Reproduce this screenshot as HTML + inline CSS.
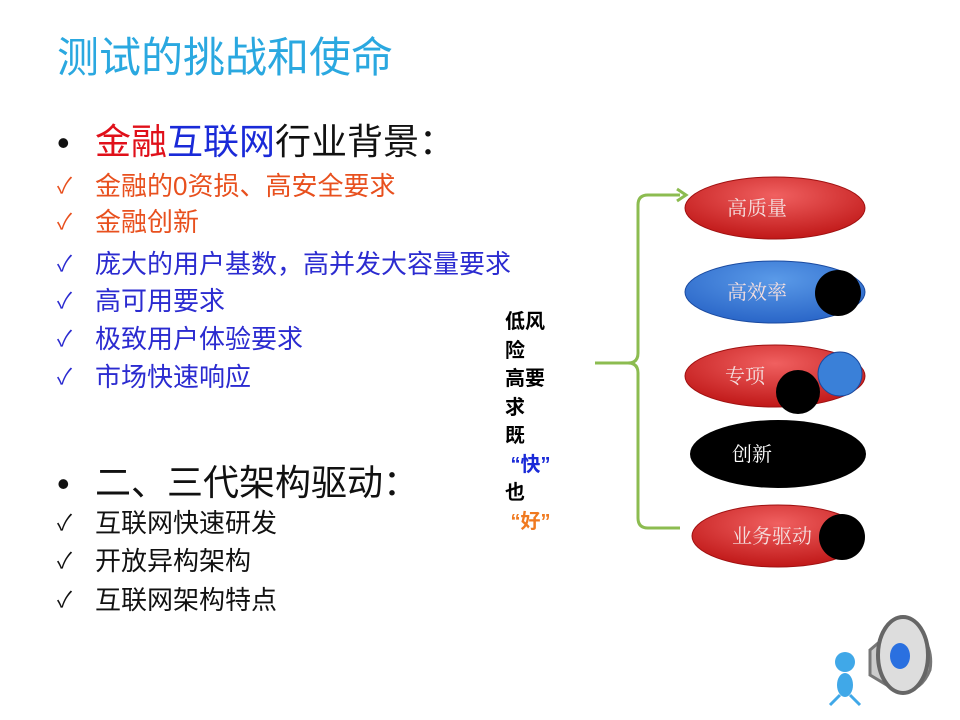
<!DOCTYPE html>
<html><head><meta charset="utf-8"><style>
body{margin:0;width:960px;height:720px;background:#fff;position:relative;overflow:hidden;font-family:"Liberation Sans","Noto Sans CJK SC",sans-serif}
.t{position:absolute;white-space:nowrap;line-height:1}
.c{font-size:26px;left:95px}
.ck{position:absolute;left:57px;font-size:22px;line-height:1}
.o{color:#e8501e}.b{color:#2b2bd0}.k{color:#111}
.v{position:absolute;left:505px;font-size:20px;font-weight:bold;line-height:28.5px;top:308px;color:#000;width:60px}
</style></head><body>
<div class="t" style="left:57px;top:37px;font-size:42px;color:#2aa8e0">测试的挑战和使命</div>
<div class="t" style="left:57px;top:125px;font-size:36px;color:#111">•</div>
<div class="t" style="left:95px;top:124px;font-size:36px;color:#111"><span style="color:#e0101a">金融</span><span style="color:#1a2ad8">互联网</span>行业背景：</div>
<div class="ck o" style="top:175px">✓</div><div class="t c o" style="top:173px">金融的0资损、高安全要求</div>
<div class="ck o" style="top:211px">✓</div><div class="t c o" style="top:209px">金融创新</div>
<div class="ck b" style="top:253px">✓</div><div class="t c b" style="top:251px">庞大的用户基数，高并发大容量要求</div>
<div class="ck b" style="top:290px">✓</div><div class="t c b" style="top:288px">高可用要求</div>
<div class="ck b" style="top:328px">✓</div><div class="t c b" style="top:326px">极致用户体验要求</div>
<div class="ck b" style="top:366px">✓</div><div class="t c b" style="top:364px">市场快速响应</div>
<div class="t" style="left:57px;top:466px;font-size:36px;color:#111">•</div>
<div class="t" style="left:95px;top:465px;font-size:36px;color:#111">二、三代架构驱动：</div>
<div class="ck k" style="top:512px">✓</div><div class="t c k" style="top:510px">互联网快速研发</div>
<div class="ck k" style="top:550px">✓</div><div class="t c k" style="top:548px">开放异构架构</div>
<div class="ck k" style="top:589px">✓</div><div class="t c k" style="top:587px">互联网架构特点</div>
<div class="v">低风<br>险<br>高要<br>求<br>既<br><span style="color:#1a2ad8">&nbsp;“快”</span><br>也<br><span style="color:#f07a20">&nbsp;“好”</span></div>
<svg width="960" height="720" style="position:absolute;left:0;top:0">
<defs>
<radialGradient id="r" cx="50%" cy="30%" r="70%"><stop offset="0" stop-color="#f06060"/><stop offset="1" stop-color="#c01818"/></radialGradient>
<radialGradient id="bl" cx="50%" cy="30%" r="70%"><stop offset="0" stop-color="#5a9ae8"/><stop offset="1" stop-color="#2a66c8"/></radialGradient>
</defs>
<g fill="none" stroke="#8cbc50" stroke-width="3">
<path d="M595 363 H628 Q638 363 638 353 V205 Q638 195 648 195 H680"/>
<path d="M628 363 Q638 363 638 373 V518 Q638 528 648 528 H680"/>
</g>
<path d="M677 189 L686 195 L677 201" fill="none" stroke="#8cbc50" stroke-width="3"/>
<ellipse cx="775" cy="208" rx="90" ry="31" fill="url(#r)" stroke="#a01010"/>
<ellipse cx="775" cy="292" rx="90" ry="31" fill="url(#bl)" stroke="#1a4aa0"/>
<circle cx="838" cy="293" r="23" fill="#000"/>
<ellipse cx="775" cy="376" rx="90" ry="31" fill="url(#r)" stroke="#a01010"/>
<circle cx="840" cy="374" r="22" fill="#3a80d8" stroke="#1a4aa0"/>
<circle cx="798" cy="392" r="22" fill="#000"/>
<ellipse cx="778" cy="454" rx="88" ry="34" fill="#000"/>
<ellipse cx="778" cy="536" rx="86" ry="31" fill="url(#r)" stroke="#a01010"/>
<circle cx="842" cy="537" r="23" fill="#000"/>
<g font-family="Liberation Serif,Noto Serif CJK SC,serif" font-size="20" fill="#f4dede">
<text x="757" y="215" text-anchor="middle">高质量</text>
<text x="757" y="299" text-anchor="middle">高效率</text>
<text x="745" y="383" text-anchor="middle">专项</text>
<text x="752" y="461" text-anchor="middle" fill="#fff">创新</text>
<text x="772" y="543" text-anchor="middle">业务驱动</text>
</g>
<g>
<path d="M870 650 L905 620 Q935 640 930 670 Q920 695 895 690 L870 675 Z" fill="#ccc" stroke="#777" stroke-width="3"/>
<ellipse cx="903" cy="655" rx="25" ry="38" fill="#ddd" stroke="#666" stroke-width="4"/>
<ellipse cx="900" cy="656" rx="10" ry="13" fill="#2a70e0"/>
<circle cx="845" cy="662" r="10" fill="#40a8e8"/>
<ellipse cx="845" cy="685" rx="8" ry="12" fill="#40a8e8"/>
<path d="M840 695 L830 705 M850 695 L860 705" stroke="#40a8e8" stroke-width="3"/>
</g>
</svg>
</body></html>
